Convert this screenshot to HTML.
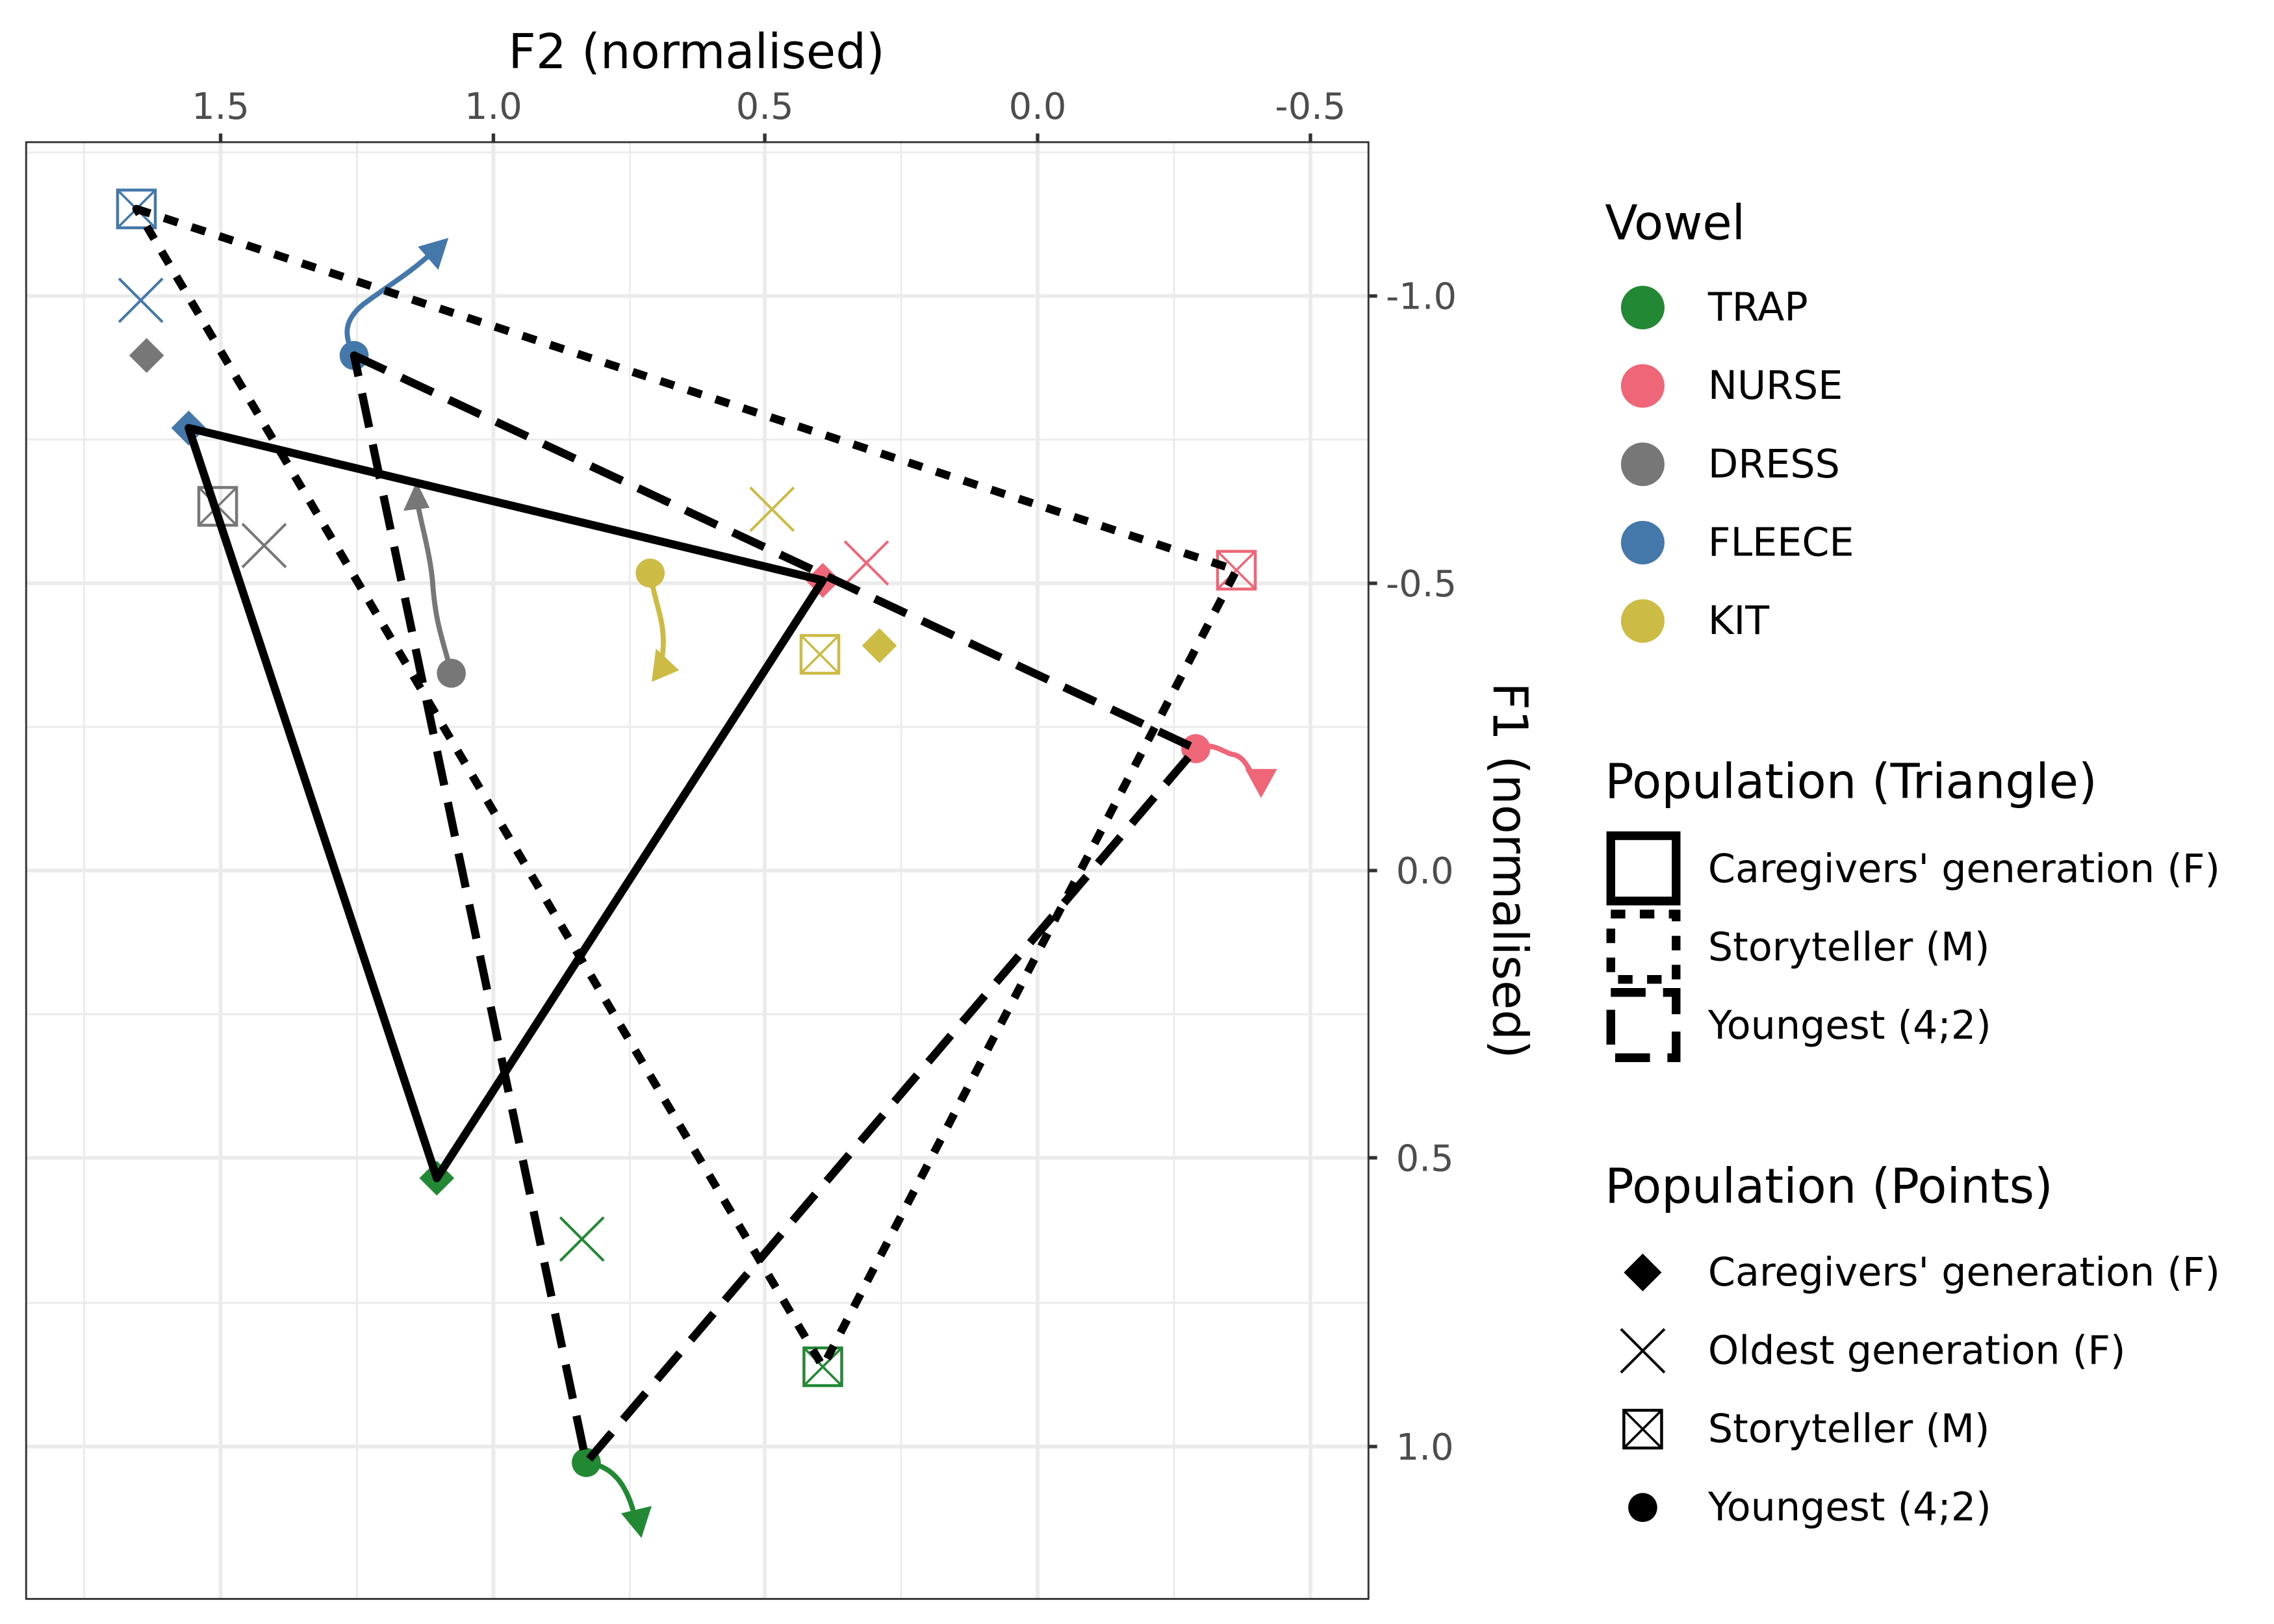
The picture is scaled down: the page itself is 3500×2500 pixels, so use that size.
<!DOCTYPE html>
<html><head><meta charset="utf-8"><style>html,body{margin:0;padding:0;background:#fff}svg{display:block}</style></head>
<body>
<svg width="3500" height="2500" viewBox="0 0 1567 1119.3" xmlns="http://www.w3.org/2000/svg" font-family="'DejaVu Sans', 'Liberation Sans', sans-serif">
<defs>
<g id="sx"><rect x="-13" y="-13" width="26" height="26" fill="none" stroke-width="2"/><path d="M-13,-13L13,13M13,-13L-13,13" stroke-width="1.6"/></g>
<g id="xx"><path d="M-15,-15L15,15M15,-15L-15,15" stroke-width="1.8" fill="none"/></g>
</defs>
<rect width="1567" height="1120" fill="#fff"/>
<g stroke="#ebebeb" stroke-width="1.3">
<path d="M58,98V1102M246,98V1102M434,98V1102M621,98V1102M809,98V1102M18,105H943M18,303H943M18,501H943M18,699H943M18,898H943"/>
</g>
<g stroke="#ebebeb" stroke-width="2.6">
<path d="M152,98V1102M340,98V1102M527,98V1102M715,98V1102M903,98V1102M18,204H943M18,402H943M18,600H943M18,798H943M18,997H943"/>
</g>
<rect x="18" y="98" width="925" height="1004" fill="none" stroke="#333" stroke-width="1.3"/>
<g stroke="#333" stroke-width="2.4">
<path d="M152,92V98M340,92V98M527,92V98M715,92V98M903,92V98M943,204H949M943,402H949M943,600H949M943,798H949M943,997H949"/>
</g>
<g fill="#4d4d4d" font-size="25" text-anchor="middle">
<text x="152" y="82">1.5</text><text x="340" y="82">1.0</text><text x="527" y="82">0.5</text><text x="715" y="82">0.0</text><text x="903" y="82">-0.5</text>
</g>
<g fill="#4d4d4d" font-size="25">
<text x="955" y="213">-1.0</text><text x="955" y="411">-0.5</text><text x="962" y="609">0.0</text><text x="962" y="807">0.5</text><text x="962" y="1006">1.0</text>
</g>
<text x="480" y="47" font-size="33" text-anchor="middle" fill="#000">F2 (normalised)</text>
<text transform="translate(1029,600) rotate(90)" font-size="33" text-anchor="middle" fill="#000">F1 (normalised)</text>

<g fill="none" stroke-width="3.5" stroke-linecap="round">
<path d="M244,245C236,230 238,220 250,210C270,195 280,190 298,174" stroke="#4477AA"/>
<path d="M311,464C305,440 300,430 298,400C296,380 290,360 288,348" stroke="#777777"/>
<path d="M448,395C452,420 460,430 456,455" stroke="#CCBB44"/>
<path d="M824,516C835,510 845,520 850,520C858,522 860,530 864,535" stroke="#EE6677"/>
<path d="M404,1008C420,1010 430,1020 436,1040" stroke="#228833"/>
</g>
<polygon points="309,164 288,170 302,186" fill="#4477AA"/>
<polygon points="287,332 278,352 296,350" fill="#777777"/>
<polygon points="449,470 468,462 452,447" fill="#CCBB44"/>
<polygon points="869,550 880,530 858,530" fill="#EE6677"/>
<polygon points="442,1060 449,1038 428,1043" fill="#228833"/>

<g stroke="#4477AA"><use href="#sx" x="94" y="144"/><use href="#xx" x="97" y="207"/></g>
<polygon points="130,283 142,295 130,307 118,295" fill="#4477AA"/>
<circle cx="244" cy="245" r="10" fill="#4477AA"/>
<polygon points="101,233 113,245 101,257 89,245" fill="#777777"/>
<g stroke="#777777"><use href="#sx" x="150" y="349"/><use href="#xx" x="182" y="376"/></g>
<circle cx="311" cy="464" r="10" fill="#777777"/>
<g stroke="#CCBB44"><use href="#xx" x="532" y="351"/><use href="#sx" x="565" y="451"/></g>
<circle cx="448" cy="395" r="10" fill="#CCBB44"/>
<polygon points="606,433 618,445 606,457 594,445" fill="#CCBB44"/>
<polygon points="567,388 579,400 567,412 555,400" fill="#EE6677"/>
<g stroke="#EE6677"><use href="#xx" x="597" y="388"/><use href="#sx" x="852" y="393"/></g>
<circle cx="824" cy="516" r="10" fill="#EE6677"/>
<polygon points="301,800 313,812 301,824 289,812" fill="#228833"/>
<g stroke="#228833"><use href="#xx" x="401" y="854"/><use href="#sx" x="567" y="942"/></g>
<circle cx="404" cy="1008" r="10" fill="#228833"/>

<g fill="none" stroke="#000" stroke-width="5.6" stroke-linejoin="round">
<polygon points="130,295 567,400 301,812"/>
<polygon points="94,144 852,393 567,942" stroke-dasharray="10,10"/>
<polygon points="244,245 824,516 404,1008" stroke-dasharray="24,12"/>
</g>

<text x="1106" y="165" font-size="33">Vowel</text>
<g font-size="27">
<circle cx="1132" cy="212" r="15" fill="#228833"/><text x="1177" y="221">TRAP</text>
<circle cx="1132" cy="266" r="15" fill="#EE6677"/><text x="1177" y="275">NURSE</text>
<circle cx="1132" cy="320" r="15" fill="#777777"/><text x="1177" y="329">DRESS</text>
<circle cx="1132" cy="374" r="15" fill="#4477AA"/><text x="1177" y="383">FLEECE</text>
<circle cx="1132" cy="428" r="15" fill="#CCBB44"/><text x="1177" y="437">KIT</text>
</g>
<text x="1106" y="550" font-size="33">Population (Triangle)</text>
<g fill="none" stroke="#000" stroke-width="6">
<rect x="1110" y="576" width="45" height="45"/>
<rect x="1110" y="630" width="45" height="45" stroke-dasharray="10,10"/>
<rect x="1110" y="684" width="45" height="45" stroke-dasharray="24,12"/>
</g>
<g font-size="27">
<text x="1177" y="608">Caregivers' generation (F)</text>
<text x="1177" y="662">Storyteller (M)</text>
<text x="1177" y="716">Youngest (4;2)</text>
</g>
<text x="1106" y="829" font-size="33">Population (Points)</text>
<polygon points="1132,864 1145,877 1132,890 1119,877" fill="#000"/>
<g stroke="#000"><use href="#xx" x="1132" y="931"/><use href="#sx" x="1132" y="985"/></g>
<circle cx="1132" cy="1039" r="10" fill="#000"/>
<g font-size="27">
<text x="1177" y="886">Caregivers' generation (F)</text>
<text x="1177" y="940">Oldest generation (F)</text>
<text x="1177" y="994">Storyteller (M)</text>
<text x="1177" y="1048">Youngest (4;2)</text>
</g>
</svg>
</body></html>
